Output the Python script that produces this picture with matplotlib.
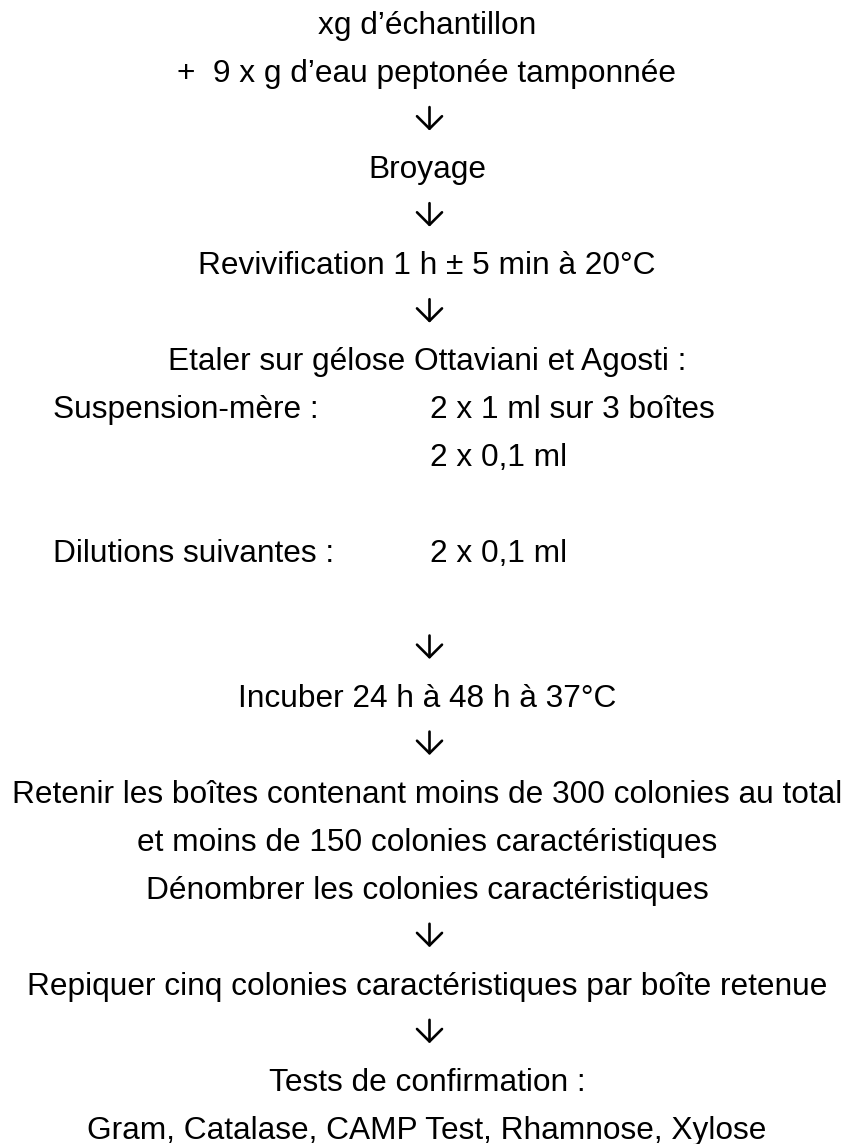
import matplotlib
matplotlib.use('Agg')

import matplotlib.pyplot as plt

# lignes du protocole (texte centré), None = flèche, '' = ligne vide
lignes = [
    "xg d\u2019échantillon",
    "+  9 x g d\u2019eau peptonée tamponnée",
    None,
    "Broyage",
    None,
    "Revivification 1 h \u00b1 5 min à 20°C",
    None,
    "Etaler sur gélose Ottaviani et Agosti :",
    "",
    "",
    "",
    "",
    "",
    None,
    "Incuber 24 h à 48 h à 37°C",
    None,
    "Retenir les boîtes contenant moins de 300 colonies au total",
    "et moins de 150 colonies caractéristiques",
    "Dénombrer les colonies caractéristiques",
    None,
    "Repiquer cinq colonies caractéristiques par boîte retenue",
    None,
    "Tests de confirmation :",
    "Gram, Catalase, CAMP Test, Rhamnose, Xylose",
]

# tableau des ensemencements (ligne, colonne gauche, colonne droite)
tab_lignes = [8, 9, 11]
tab_gauche = ["Suspension-mère :", "", "Dilutions suivantes :"]
tab_droite = ["2 x 1 ml sur 3 boîtes", "2 x 0,1 ml", "2 x 0,1 ml"]

W, H = 854, 1144
fig = plt.figure(figsize=(W / 100, H / 100), dpi=100)
ax = fig.add_axes([0, 0, 1, 1])
ax.set_xlim(0, W)
ax.set_ylim(H, 0)
ax.axis('off')

base0, pas = 34, 48.04   # ligne de base du 1er texte, interligne
fs = 22.8
police = ['Liberation Sans', 'DejaVu Sans']

for i, txt in enumerate(lignes):
    y = base0 + i * pas
    if txt is None:
        # flèche vers le bas (stem + tête en V ouverte)
        ax.annotate('', xy=(429.5, y + 0.5), xytext=(429.5, y - 23),
                    arrowprops=dict(arrowstyle='->,head_length=0.45,head_width=0.45',
                                    lw=1.9, color='black', mutation_scale=20,
                                    shrinkA=0, shrinkB=0))
    elif txt:
        ax.text(W / 2, y, txt, ha='center', va='baseline', fontsize=fs,
                family=police, color='black')

for i, g, d in zip(tab_lignes, tab_gauche, tab_droite):
    y = base0 + i * pas
    ax.text(53, y, g, ha='left', va='baseline', fontsize=fs, family=police)
    ax.text(430, y, d, ha='left', va='baseline', fontsize=fs, family=police)

fig.savefig('out.png', dpi=100, facecolor='white')
